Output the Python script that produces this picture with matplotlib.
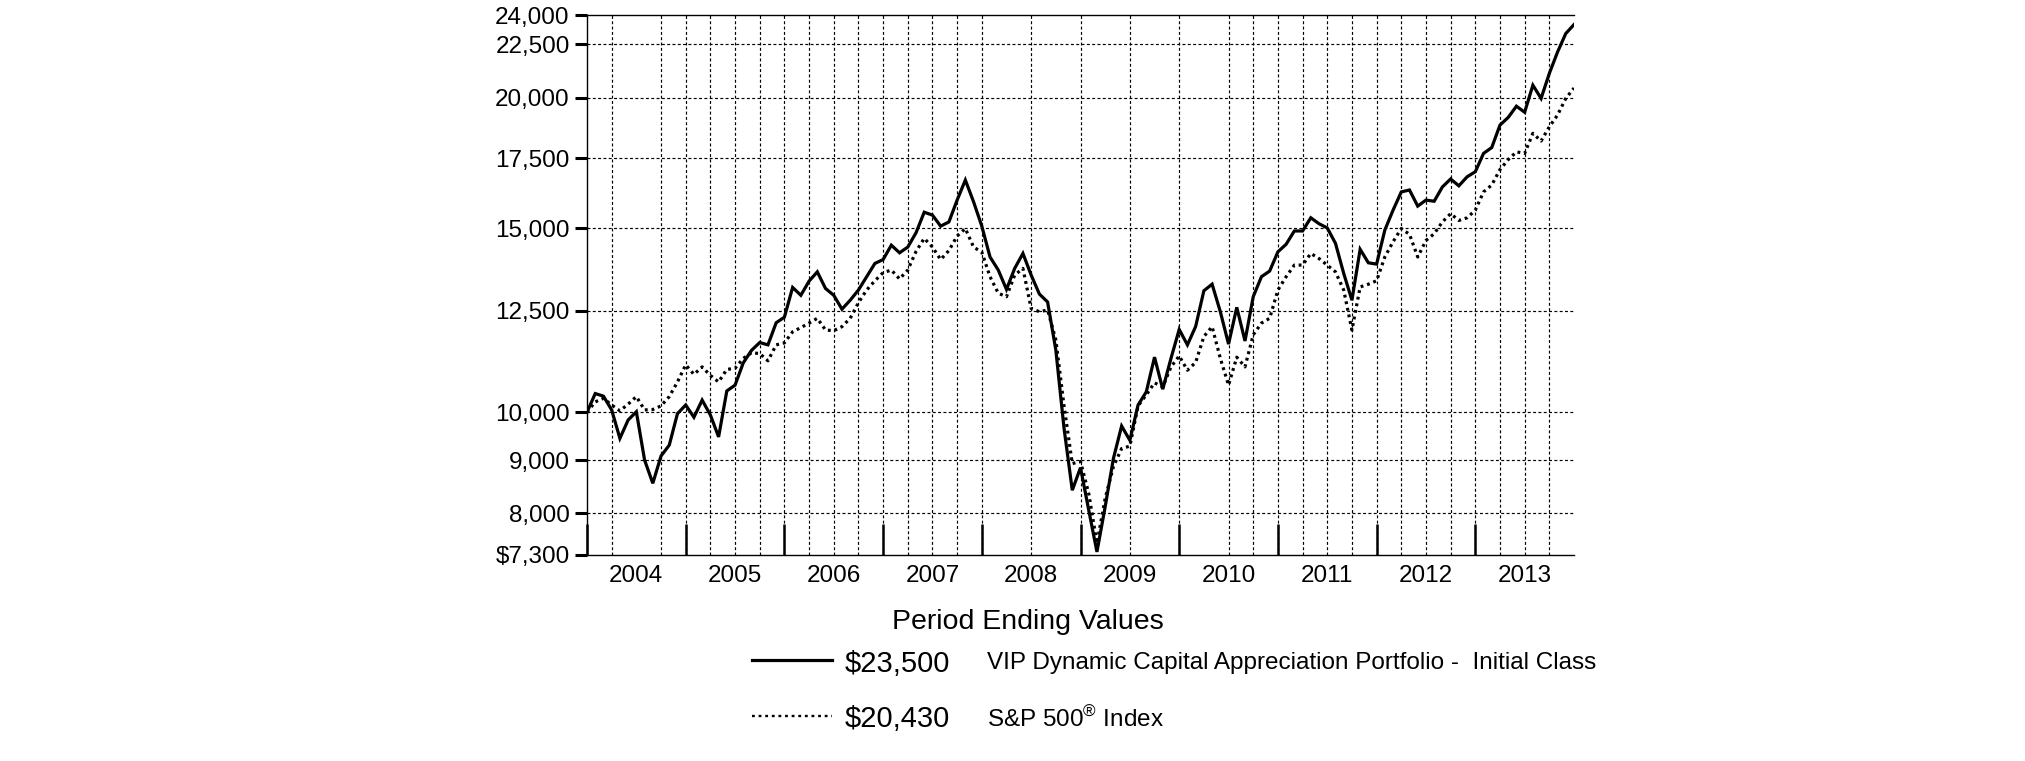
import matplotlib
matplotlib.use('Agg')
import matplotlib.pyplot as plt
from matplotlib.lines import Line2D
from matplotlib.ticker import NullLocator
import numpy as np

# ── Data (month-end values, Dec 2003 .. Dec 2013, growth of $10,000) ─────────
fund = [10000, 10420, 10360, 10050, 9440, 9830, 10010, 9000, 8550, 9080, 9300, 9970,
        10160, 9890, 10270, 9940, 9470, 10480, 10615, 11150, 11460, 11660, 11600, 12180,
        12330, 13165, 12940, 13350, 13625, 13135, 12940, 12550, 12800, 13090, 13480, 13880,
        14000, 14450, 14210, 14390, 14850, 15540, 15440, 15070, 15210, 15960, 16680, 15900,
        15070, 14080, 13680, 13110, 13730, 14190, 13530, 12975, 12750, 11470, 9650, 8420,
        8850, 8060, 7350, 8120, 9030, 9700, 9400, 10160, 10460, 11290, 10520, 11260,
        12000, 11600, 12080, 13070, 13260, 12480, 11620, 12600, 11700, 12900, 13480, 13650,
        14240, 14480, 14910, 14910, 15350, 15150, 15010, 14510, 13580, 12800, 14320, 13900,
        13860, 14940, 15610, 16250, 16320, 15750, 15960, 15920, 16430, 16720, 16470, 16800,
        16990, 17690, 17920, 18830, 19150, 19630, 19370, 20560, 19970, 21100, 22120, 23040,
        23500]
sp500 = [10000, 10230, 10310, 10160, 10030, 10180, 10350, 10050, 10060, 10140, 10350, 10690,
         11100, 10870, 11050, 10845, 10690, 10990, 11015, 11260, 11400, 11380, 11200, 11600,
         11650, 11940, 12050, 12170, 12300, 11985, 11970, 12075, 12300, 12730, 13090, 13360,
         13600, 13680, 13415, 13680, 14250, 14670, 14390, 14000, 14280, 14745, 14990, 14390,
         14230, 13480, 13000, 12900, 13530, 13730, 12570, 12480, 12525, 11730, 10140, 8930,
         8970, 8360, 7490, 8270, 8870, 9230, 9280, 10140, 10390, 10670, 10570, 11050,
         11320, 10970, 11160, 11815, 12075, 11260, 10615, 11290, 11050, 11860, 12170, 12300,
         13090, 13480, 13830, 13830, 14190, 14030, 13830, 13625, 13090, 11985, 13180, 13260,
         13360, 14080, 14560, 14990, 14800, 14080, 14600, 14820, 15210, 15490, 15260, 15350,
         15610, 16250, 16500, 17070, 17450, 17750, 17690, 18490, 18180, 18760, 19250, 19970,
         20430]

years = ["2004", "2005", "2006", "2007", "2008", "2009", "2010", "2011", "2012", "2013"]
year_start = [0, 12, 24, 36, 48, 60, 72, 84, 96, 108]      # month index of each year start
year_mid = [6, 18, 30, 42, 54, 66, 78, 90, 102, 114]
grid_months = [3, 9, 12, 15, 18, 21, 24, 27, 30, 33, 36, 39, 42, 45, 48, 54, 60, 66,
               72, 78, 81, 84, 87, 90, 93, 96, 99, 102, 105, 108, 111, 114, 117]

y_ticks = [7300, 8000, 9000, 10000, 12500, 15000, 17500, 20000, 22500, 24000]
y_labels = ["$7,300", "8,000", "9,000", "10,000", "12,500", "15,000", "17,500",
            "20,000", "22,500", "24,000"]
y_grid = [8000, 9000, 10000, 12500, 15000, 17500, 20000, 22500]

fund_name = "VIP Dynamic Capital Appreciation Portfolio -  Initial Class"
fund_end = "$23,500"
sp_name = "S&P 500$^{®}$ Index"
sp_end = "$20,430"

# ── Style ────────────────────────────────────────────────────────────────────
INK = "#000000"
plt.rcParams.update({
    "font.family": ["Liberation Sans", "DejaVu Sans"],
    "mathtext.fontset": "custom",
    "mathtext.rm": "Liberation Sans",
    "mathtext.it": "Liberation Sans",
    "mathtext.default": "regular",
})

W, H = 2025, 761
fig = plt.figure(figsize=(W / 100, H / 100), dpi=100)
fig.patch.set_facecolor("white")

# axes box in pixels: left 587, right 1574, top 15, bottom 555
ax = fig.add_axes([587 / W, 1 - 555 / H, (1574 - 587) / W, (555 - 15) / H])

x = np.arange(len(fund))

# grid
grid_kw = dict(color=INK, lw=0.85, ls=(0, (2.5, 2.0)), zorder=1)
ax.vlines(grid_months, y_ticks[0], y_ticks[-1], **grid_kw)
ax.hlines(y_grid, 0, 120, **grid_kw)

# series
ax.plot(x, sp500, color=INK, lw=2.3, ls=(0, (0.9, 1.2)), zorder=3)
ax.plot(x, fund, color=INK, lw=2.3, zorder=4, solid_joinstyle='miter')

ax.set_yscale('log')
ax.set_ylim(y_ticks[0], y_ticks[-1])
ax.set_xlim(0, 120)
ax.set_yticks(y_ticks)
ax.set_yticklabels(y_labels)
ax.yaxis.set_minor_locator(NullLocator())
ax.tick_params(axis='y', which='major', direction='out', length=9, width=2.2,
               pad=3.5, labelsize=17.5, colors=INK)

ax.set_xticks(year_start)
ax.set_xticklabels([])
ax.set_xticks(year_mid, minor=True)
ax.set_xticklabels(years, minor=True)
ax.tick_params(axis='x', which='major', direction='in', length=22, width=1.8)
ax.tick_params(axis='x', which='minor', length=0, pad=7, labelsize=17.5)

for side in ("top", "left", "bottom"):
    ax.spines[side].set_linewidth(1.0)
ax.spines["right"].set_visible(False)

# ── Legend block ─────────────────────────────────────────────────────────────
def fx(px):
    return px / W

def fy(py):
    return 1 - py / H

fig.text(fx(1028), fy(622), "Period Ending Values", ha='center', va='center', fontsize=20.5)

fig.add_artist(Line2D([fx(752), fx(832)], [fy(660), fy(660)], color=INK, lw=2.3))
fig.text(fx(845), fy(664), fund_end, ha='left', va='center', fontsize=21)
fig.text(fx(987), fy(663), fund_name, ha='left', va='center', fontsize=17.5)

fig.add_artist(Line2D([fx(752), fx(832)], [fy(716), fy(716)], color=INK, lw=1.7,
                      ls=(0, (1.2, 1.6))))
fig.text(fx(845), fy(719), sp_end, ha='left', va='center', fontsize=21)
fig.text(fx(987), fy(719), sp_name, ha='left', va='center', fontsize=17.5)

fig.savefig("out.png", dpi=100, facecolor="white")
